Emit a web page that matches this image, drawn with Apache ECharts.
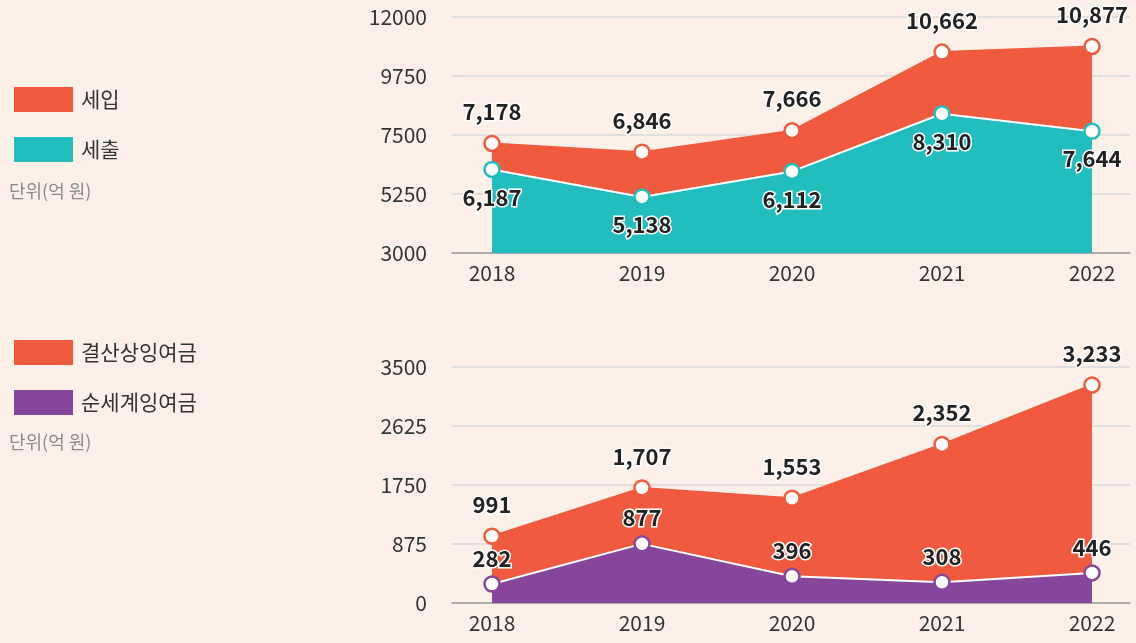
<!DOCTYPE html>
<html><head><meta charset="utf-8">
<script src="https://cdn.jsdelivr.net/npm/echarts@6/dist/echarts.min.js"></script>
<style>html,body{margin:0;padding:0;background:#FCF0E9;}#c{width:1136px;height:643px;}</style>
</head><body><div id="c"></div>
<script>
const years = [2018, 2019, 2020, 2021, 2022];
const revenue = [7178, 6846, 7666, 10662, 10877];      // 세입
const expenditure = [6187, 5138, 6112, 8310, 7644];    // 세출
const surplus = [991, 1707, 1553, 2352, 3233];         // 결산상잉여금
const netSurplus = [282, 877, 396, 308, 446];          // 순세계잉여금
const topTicks = [3000, 5250, 7500, 9750, 12000];
const bottomTicks = [0, 875, 1750, 2625, 3500];

const RED = '#F05A3F', TEAL = '#22BDBD', PURPLE = '#86479B';
const FONT = '"Noto Sans CJK KR","Noto Sans",sans-serif';
const pairs = arr => arr.map((v, i) => [years[i], v]);
const fmt = p => p.value[1].toLocaleString('en-US');

function xAxis(gi) {
  return {
    type: 'value', gridIndex: gi, min: 2018 - 40/150, max: 2018 - 40/150 + 678/150,
    axisLine: {show: true, lineStyle: {color: '#9a9a9a', width: 1.5}},
    axisTick: {show: false},
    splitLine: {show: false},
    axisLabel: {customValues: years, formatter: v => String(v), color: '#333', fontSize: 21, fontFamily: FONT, margin: 10}
  };
}
function yAxis(gi, ticks) {
  return {
    type: 'value', gridIndex: gi, min: ticks[0], max: ticks[ticks.length-1], interval: ticks[1]-ticks[0],
    axisLine: {show: false}, axisTick: {show: false},
    splitLine: {lineStyle: {color: '#d9d9d9', width: 1.5}},
    axisLabel: {formatter: v => String(v), color: '#333', fontSize: 21, fontFamily: FONT, margin: 25}
  };
}
function series(name, data, color, gi, pos, dist, lineColor) {
  return {
    name, type: 'line', xAxisIndex: gi, yAxisIndex: gi, data: pairs(data),
    symbol: 'circle', symbolSize: 15,
    itemStyle: {color: '#fff', borderColor: color, borderWidth: 2.5},
    lineStyle: {color: lineColor, width: 2},
    areaStyle: {color: color, opacity: 1},
    label: {show: true, position: pos, distance: dist, formatter: fmt, fontSize: 22, fontWeight: 'bold',
      fontFamily: FONT, color: '#222', textBorderColor: '#fff', textBorderWidth: 3},
    emphasis: {disabled: true}, animation: false, z: 2
  };
}
function legend(top, names, colors) {
  return {
    orient: 'vertical', left: 9, top, itemWidth: 59, itemHeight: 25, itemGap: 25, icon: 'rect',
    selectedMode: false,
    textStyle: {fontSize: 21, fontFamily: FONT, color: '#333', padding: [0, 0, 0, 3]},
    data: names.map((n, i) => ({name: n, icon: 'rect', itemStyle: {color: colors[i], borderWidth: 0}}))
  };
}

const chart = echarts.init(document.getElementById('c'));
chart.setOption({
  backgroundColor: '#FCF0E9',
  animation: false,
  grid: [
    {left: 452, right: 6, top: 17, bottom: 390},
    {left: 452, right: 6, top: 367, bottom: 40}
  ],
  xAxis: [xAxis(0), xAxis(1)],
  yAxis: [yAxis(0, topTicks), yAxis(1, bottomTicks)],
  legend: [
    legend(82, ['세입', '세출'], [RED, TEAL]),
    legend(335, ['결산상잉여금', '순세계잉여금'], [RED, PURPLE])
  ],
  graphic: [
    {type: 'text', left: 9, top: 182, style: {text: '단위(억 원)', fontSize: 18, fontFamily: FONT, fill: '#8a8a8a'}},
    {type: 'text', left: 9, top: 433, style: {text: '단위(억 원)', fontSize: 18, fontFamily: FONT, fill: '#8a8a8a'}}
  ],
  series: [
    series('세입', revenue, RED, 0, 'top', 12, RED),
    series('세출', expenditure, TEAL, 0, 'bottom', 8, '#fff'),
    series('결산상잉여금', surplus, RED, 1, 'top', 12, RED),
    series('순세계잉여금', netSurplus, PURPLE, 1, 'top', 6, '#fff')
  ]
});
</script></body></html>
